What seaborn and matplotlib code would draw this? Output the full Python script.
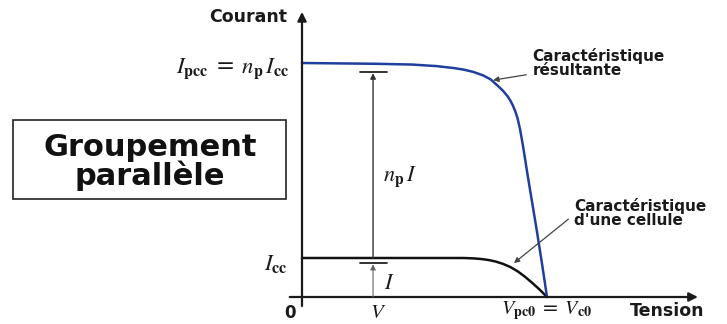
import matplotlib
matplotlib.use("Agg")
import matplotlib.pyplot as plt
import seaborn as sns
import pandas as pd
from matplotlib.patches import Rectangle

# ---- data (V normalised to Voc = 1, I normalised to Icc = 1) ----
v_cell = [0.0, 0.3, 0.6, 0.66, 0.70, 0.73, 0.76, 0.79, 0.82, 0.85, 0.88, 0.91, 0.94, 0.97, 1.0]
i_cell = [1.0, 1.0, 1.0, 1.0, 0.99, 0.975, 0.95, 0.91, 0.85, 0.77, 0.66, 0.52, 0.36, 0.19, 0.0]

v_res = [0.0, 0.3, 0.45, 0.55, 0.62, 0.66, 0.70, 0.74, 0.77, 0.80, 0.82, 0.84, 0.85,
         0.86, 0.87, 0.88, 0.89, 0.90, 0.91, 0.92, 0.94, 0.96, 0.98, 1.0]
i_res = [6.0, 5.98, 5.96, 5.92, 5.87, 5.83, 5.77, 5.68, 5.58, 5.41, 5.29, 5.14, 5.04,
         4.92, 4.77, 4.58, 4.30, 3.95, 3.56, 3.16, 2.40, 1.64, 0.84, 0.0]

series_names = ["Caractéristique\nd'une cellule", "Caractéristique\nrésultante"]
title_box = "Groupement\nparallèle"

sns.set_theme(style="white")
plt.rcParams["font.family"] = ["DejaVu Sans"]
plt.rcParams["mathtext.fontset"] = "stix"

df = pd.concat([
    pd.DataFrame({"V": v_cell, "I": i_cell, "serie": series_names[0]}),
    pd.DataFrame({"V": v_res, "I": i_res, "serie": series_names[1]}),
])

fig = plt.figure(figsize=(7.27, 3.24), dpi=100)
ax = fig.add_axes([0, 0, 1, 1])
ax.set_xlim(-302 / 245, 425 / 245)
ax.set_ylim(-27 / 39, 297 / 39)
ax.axis("off")

sns.lineplot(data=df, x="V", y="I", hue="serie", estimator=None, sort=False,
             palette={series_names[0]: "#111111", series_names[1]: "#1f3f9e"},
             linewidth=1.8, legend=False, ax=ax)

axc = "#1a1a1a"
# axes with arrows
ax.annotate("", xy=(1.616, 0), xytext=(-0.05, 0),
            arrowprops=dict(arrowstyle="-|>", lw=1.6, color=axc, mutation_scale=13,
                            shrinkA=0, shrinkB=0))
ax.annotate("", xy=(0, 7.31), xytext=(0, -0.23),
            arrowprops=dict(arrowstyle="-|>", lw=1.6, color=axc, mutation_scale=13,
                            shrinkA=0, shrinkB=0))

# axis labels
ax.text(-0.06, 7.18, "Courant", ha="right", va="center", fontsize=12.5,
        fontweight="bold", color=axc)
ax.text(1.34, -0.37, "Tension", ha="left", va="center", fontsize=12.5,
        fontweight="bold", color=axc)
ax.text(-0.05, -0.41, "0", ha="center", va="center", fontsize=12,
        fontweight="bold", color=axc)

# math labels
ax.text(-0.05, 5.85, r"$I_{\mathbf{pcc}}$ = $n_{\mathbf{p}}\,I_{\mathbf{cc}}$",
        ha="right", va="center", fontsize=16.5, color=axc)
ax.text(-0.06, 0.85, r"$I_{\mathbf{cc}}$", ha="right", va="center", fontsize=16.5, color=axc)
ax.text(0.31, -0.38, r"$V$", ha="center", va="center", fontsize=15, color=axc)
ax.text(1.0, -0.34, r"$V_{\mathbf{pc0}}$ = $V_{\mathbf{c0}}$", ha="center", va="center",
        fontsize=14.5, color=axc)
ax.text(0.33, 3.08, r"$n_{\mathbf{p}}\,I$", ha="left", va="center", fontsize=16, color=axc)
ax.text(0.335, 0.36, r"$I$", ha="left", va="center", fontsize=16, color=axc)

# n_p I dimension arrow
ax.annotate("", xy=(0.29, 5.74), xytext=(0.29, 1.0),
            arrowprops=dict(arrowstyle="-|>", lw=1.0, color="#333333", mutation_scale=8,
                            shrinkA=0, shrinkB=0))
ax.plot([0.237, 0.347], [5.77, 5.77], color="#222222", lw=1.3)
# I dimension arrow
ax.annotate("", xy=(0.29, 0.84), xytext=(0.29, 0.0),
            arrowprops=dict(arrowstyle="-|>", lw=0.8, color="#666666", mutation_scale=8,
                            shrinkA=0, shrinkB=0))
ax.plot([0.237, 0.347], [0.87, 0.87], color="#222222", lw=1.3)

# series annotations
ax.annotate(series_names[1], xy=(0.78, 5.56), xytext=(0.94, 6.0),
            ha="left", va="center", fontsize=11, fontweight="bold", color=axc,
            linespacing=0.95,
            arrowprops=dict(arrowstyle="-|>", lw=0.9, color="#444444", mutation_scale=8,
                            shrinkA=2, shrinkB=0))
ax.annotate(series_names[0], xy=(0.865, 0.87), xytext=(1.11, 2.15),
            ha="left", va="center", fontsize=11, fontweight="bold", color=axc,
            linespacing=0.95,
            arrowprops=dict(arrowstyle="-|>", lw=0.9, color="#444444", mutation_scale=8,
                            shrinkA=2, shrinkB=0, relpos=(0, 0.45)))

# title box
ax.add_patch(Rectangle((-1.18, 2.51), 1.115, 2.03, fill=False, edgecolor="#222222", lw=1.2))
ax.text(-0.62, 3.47, title_box, ha="center", va="center", fontsize=22,
        fontweight="bold", color="#111111", linespacing=0.95)

fig.savefig("out.png", dpi=100)
